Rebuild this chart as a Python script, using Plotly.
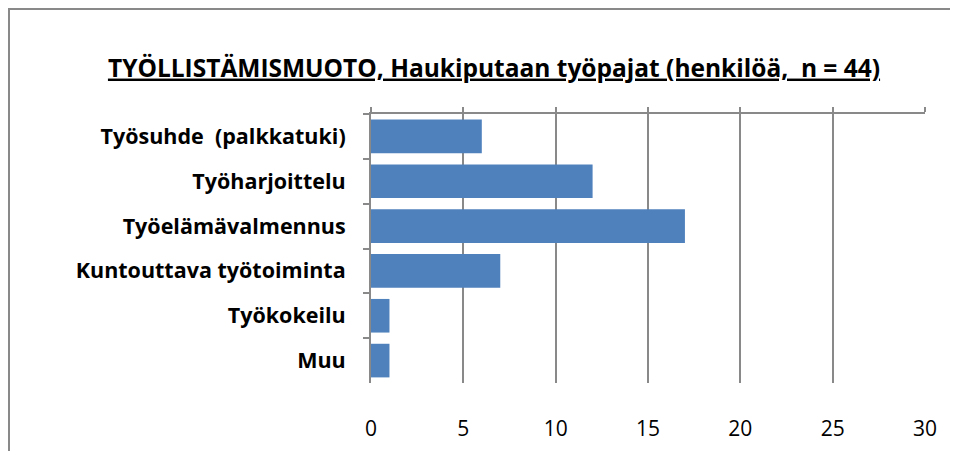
import plotly.graph_objects as go

categories = ["Työsuhde  (palkkatuki)", "Työharjoittelu", "Työelämävalmennus",
              "Kuntouttava työtoiminta", "Työkokeilu", "Muu"]
values = [6, 12, 17, 7, 1, 1]
x_ticks = [0, 5, 10, 15, 20, 25, 30]
title_text = "TYÖLLISTÄMISMUOTO, Haukiputaan työpajat (henkilöä,  n = 44)"

FONT = "Open Sans"
GRID = "#898989"

fig = go.Figure()
fig.add_trace(go.Bar(
    y=categories, x=values, orientation="h",
    marker=dict(color="#4F81BD", line=dict(width=0)),
    hoverinfo="x+y",
))

# page has an 8px body margin, so the figure is sized to the remaining area
W, H = 950, 443
L, R, T, B = 363, 33, 106, 68
pw, ph = W - L - R, H - T - B

fig.update_layout(
    width=W, height=H,
    margin=dict(l=L, r=R, t=T, b=B, pad=0, autoexpand=False),
    paper_bgcolor="white", plot_bgcolor="white",
    showlegend=False,
    bargap=0.25,
    font=dict(family=FONT, color="black"),
    title=dict(
        text="<b><u>" + title_text + "</u></b>",
        x=486 / W, xanchor="center", xref="container",
        y=1 - 60 / H, yanchor="middle", yref="container",
        font=dict(size=24.5, family=FONT, color="black"),
    ),
    xaxis=dict(
        range=[0, 30], tickvals=x_ticks, ticktext=[str(v) for v in x_ticks],
        showgrid=True, gridcolor=GRID, gridwidth=1.5,
        zeroline=False, showline=False, ticks="",
        side="bottom", ticklabelstandoff=31, automargin=False,
        tickfont=dict(size=21, family=FONT, color="black"),
        fixedrange=True,
    ),
    xaxis2=dict(
        overlaying="x", side="top", range=[0, 30], tickvals=x_ticks,
        showticklabels=False, showgrid=False, zeroline=False,
        showline=True, linecolor=GRID, linewidth=2, automargin=False,
        ticks="outside", ticklen=5, tickcolor=GRID, tickwidth=1.5,
        fixedrange=True,
    ),
    yaxis=dict(
        categoryorder="array", categoryarray=categories, autorange="reversed",
        showline=True, linecolor=GRID, linewidth=2, automargin=False,
        ticks="outside", tickson="boundaries", ticklen=6, tickcolor=GRID, tickwidth=1.5,
        showgrid=False, zeroline=False, ticklabelstandoff=19,
        tickfont=dict(size=21.5, family=FONT, color="black", weight="bold"),
        fixedrange=True,
    ),
    shapes=[dict(
        type="rect", xref="paper", yref="paper",
        x0=(1 - L) / pw, x1=(970 - L) / pw,
        y0=-(470 - (H - B)) / ph, y1=1 + (T - 1) / ph,
        line=dict(color=GRID, width=2), fillcolor="rgba(0,0,0,0)", layer="below",
    )],
)

# invisible trace to anchor the top axis
fig.add_trace(go.Scatter(x=[0], y=[categories[0]], xaxis="x2", mode="markers",
                         marker=dict(opacity=0), hoverinfo="skip", showlegend=False))

fig.write_html("out.html")
